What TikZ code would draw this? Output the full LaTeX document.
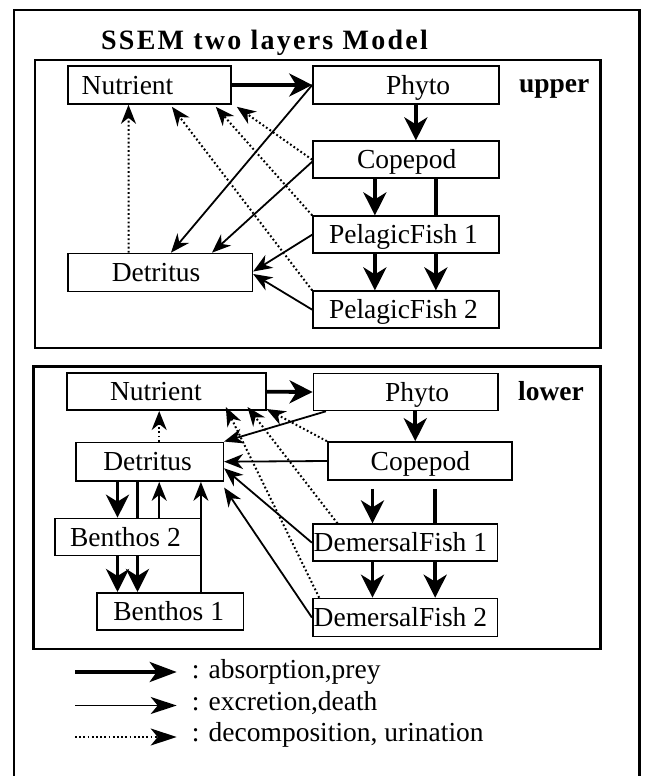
\documentclass[tikz,border=0pt]{standalone}
\usepackage{fontspec}
\setmainfont{Liberation Serif}
\usetikzlibrary{arrows.meta,calc}
\newcommand{\nfont}{\fontsize{27.5}{30}\selectfont}
\newcommand{\bt}[2]{\makebox[#1][l]{#2}}
\begin{document}
\begin{tikzpicture}[x=1pt,y=-1pt,
  bx/.style={draw, line width=1.6pt, rectangle, inner ysep=0pt, font=\nfont, text height=18.5pt, text depth=0pt},
  frame/.style={draw, line width=2.4pt},
  absarrow/.style={line width=3.8pt, -{Stealth[length=23pt,width=23pt,inset=7pt]}},
  plainthick/.style={line width=3.8pt},
  excarrow/.style={line width=1.8pt, -{Stealth[length=19pt,width=15pt,inset=6pt]}},
  decarrow/.style={line width=2pt, dash pattern=on 1.8pt off 2.4pt, -{Stealth[length=19pt,width=15pt,inset=6pt]}},
  legtext/.style={font=\nfont, inner sep=0pt}]
\useasboundingbox (0,0) rectangle (648,776);
% frames
\draw[frame] (14,790) -- (14,10) -- (639.5,10) -- (639.5,790);
\draw[frame] (35,60) rectangle (600.5,347.7);
\draw[frame] (33.5,366.5) rectangle (600.5,649);
\node[anchor=base, inner sep=0pt, font={\fontsize{28}{30}\selectfont\bfseries\addfontfeatures{LetterSpace=8}}] (title) at (264.5,49.3) {SSEM two layers Model};
\node[anchor=base, inner sep=0pt, font={\nfont\bfseries}] (upper) at (554.2,92.7) {upper};
\node[anchor=base, inner sep=0pt, font={\nfont\bfseries}] (lower) at (551,400) {lower};
% upper nodes
\node[bx, minimum height=38pt, inner xsep=13.7pt] (uN) at (149.5,85) {\bt{135.6pt}{Nutrient}};
\node[bx, minimum height=38pt, inner xsep=73pt] (uP) at (406,85) {\bt{40pt}{Phyto}};
\node[bx, minimum height=37pt, inner xsep=44pt] (uC) at (406,159.7) {\bt{98pt}{Copepod}};
\node[bx, minimum height=37pt, inner xsep=16pt] (uF1) at (406,234.7) {\bt{154pt}{PelagicFish 1}};
\node[bx, minimum height=37pt, inner xsep=16pt] (uF2) at (406,309.7) {\bt{154pt}{PelagicFish 2}};
\node[bx, minimum height=38pt, inner xsep=43.7pt] (uD) at (160.2,272.5) {\bt{96.9pt}{Detritus}};
% lower nodes
\node[bx, minimum height=37pt, inner xsep=43.3pt] (lN) at (166.2,391.7) {\bt{112.4pt}{Nutrient}};
\node[bx, minimum height=37pt, inner xsep=71.7pt] (lP) at (405.7,392) {\bt{41.3pt}{Phyto}};
\node[bx, minimum height=38pt, inner xsep=43pt] (lC) at (419.7,461) {\bt{98pt}{Copepod}};
\node[bx, minimum height=38.7pt, inner xsep=27.6pt] (lD) at (149.5,461.7) {\bt{92.4pt}{Detritus}};
\node[bx, minimum height=37pt, inner xsep=15pt] (lB2) at (128,537) {\bt{116pt}{Benthos 2}};
\node[bx, minimum height=37pt, inner xsep=16.6pt] (lB1) at (170,611.3) {\bt{113.4pt}{Benthos 1}};
\node[bx, minimum height=37pt, inner xsep=1pt] (lF1) at (405,542.7) {\bt{182.6pt}{DemersalFish 1}};
\node[bx, minimum height=38pt, inner xsep=1pt] (lF2) at (405,617.5) {\bt{182.6pt}{DemersalFish 2}};
% upper connectors
\draw[absarrow] (uN.east) -- (uP.west);
\draw[absarrow] ([xshift=103.7pt]uP.south west) -- ([xshift=103.7pt]uC.north west);
\draw[absarrow] ([xshift=62.7pt]uC.south west) -- ([xshift=62.7pt]uF1.north west);
\draw[plainthick] ([xshift=123.7pt]uC.south west) -- ([xshift=123.7pt]uF1.north west);
\draw[absarrow] ([xshift=62.7pt]uF1.south west) -- ([xshift=62.7pt]uF2.north west);
\draw[absarrow] ([xshift=123.7pt]uF1.south west) -- ([xshift=123.7pt]uF2.north west);
\draw[excarrow] (uP.west) -- ([xshift=103.7pt]uD.north west);
\draw[excarrow] ([yshift=-2pt]uC.west) -- ([xshift=144.7pt]uD.north west);
\draw[excarrow] (uF1.west) -- ([yshift=1pt]uD.east);
\draw[excarrow] (uF2.west) -- ([yshift=-1.5pt]uD.east);
\draw[decarrow] ([xshift=61.3pt]uD.north west) -- ([xshift=61.3pt]uN.south west);
\draw[decarrow] (uC.west) -- ([xshift=5pt,yshift=-2pt]uN.south east);
\draw[decarrow] (uF1.north west) -- ([xshift=-16pt,yshift=-2pt]uN.south east);
\draw[decarrow] (uF2.north west) -- ([xshift=104.7pt,yshift=-2pt]uN.south west);
% lower connectors
\coordinate (pc) at ([xshift=102.7pt]lP.south west);
\coordinate (cf1) at ([xshift=45.6pt,yshift=-8pt]lC.south west);
\coordinate (cf2) at ([xshift=108.3pt,yshift=-8pt]lC.south west);
\coordinate (dn) at ([xshift=84.3pt]lD.north west);
\coordinate (db1) at ([xshift=42.6pt]lD.south west);
\coordinate (db2) at ([xshift=62.6pt]lD.south west);
\coordinate (db3) at ([xshift=84.3pt]lD.south west);
\coordinate (db4) at ([xshift=126pt]lD.south west);
\coordinate (bb1) at ([xshift=63.3pt]lB2.south west);
\coordinate (bb2) at ([xshift=83.3pt]lB2.south west);
\draw[absarrow] (lN.east) -- (lP.west);
\draw[absarrow] (pc) -- (pc |- lC.north);
\draw[excarrow] ([xshift=13.4pt]lP.south west) -- (lD.north east);
\draw[excarrow] (lC.west) -- (lD.east);
\draw[excarrow] (lF1.west) -- ([yshift=-6.6pt]lD.east);
\draw[excarrow] (lF2.west) -- ([yshift=-5.7pt]lD.south east);
\draw[decarrow] (dn) -- (dn |- lN.south);
\draw[decarrow] (lC.north west) -- ([yshift=2pt]lN.south east);
\draw[decarrow] ([xshift=25.6pt]lF1.north west) -- ([xshift=-19pt,yshift=4pt]lN.south east);
\draw[decarrow] ([xshift=7.3pt]lF2.north west) -- ([xshift=-40.7pt,yshift=4pt]lN.south east);
\draw[absarrow] (cf1) -- (cf1 |- lF1.north);
\draw[plainthick] (cf2) -- (cf2 |- lF1.north);
\draw[absarrow] ([xshift=60.6pt]lF1.south west) -- ([xshift=60.6pt]lF2.north west);
\draw[absarrow] ([xshift=123.3pt]lF1.south west) -- ([xshift=123.3pt]lF2.north west);
\draw[absarrow] (db1) -- (db1 |- lB2.north);
\draw[plainthick] (db2) -- (db2 |- lB2.north);
\draw[excarrow] (db3 |- lB2.north) -- (db3);
\draw[excarrow] (db4 |- lB1.north) -- (db4);
\draw[absarrow] (bb1) -- (bb1 |- lB1.north);
\draw[absarrow] (bb2) -- (bb2 |- lB1.north);
% legend
\coordinate (k1a) at (75,672); \coordinate (k1b) at (176.7,672);
\coordinate (k2a) at (75,705.5); \coordinate (k2b) at (176.7,705.5);
\coordinate (k3a) at (75,737); \coordinate (k3b) at (176.7,737);
\draw[line width=3.8pt, -{Stealth[length=27pt,width=20pt,inset=7pt]}] (k1a) -- (k1b);
\draw[line width=1.6pt, -{Stealth[length=26pt,width=17pt,inset=7pt]}] (k2a) -- (k2b);
\draw[line width=2pt, dash pattern=on 1.8pt off 2.4pt, -{Stealth[length=26pt,width=17pt,inset=7pt]}] (k3a) -- (k3b);
\node[legtext, anchor=base west] (t1) at (191.7,678.5) {: absorption,prey};
\node[legtext, anchor=base west] (t2) at (191.7,710) {: excretion,death};
\node[legtext, anchor=base west] (t3) at (191.7,741.7) {: decomposition, urination};
\end{tikzpicture}
\end{document}
